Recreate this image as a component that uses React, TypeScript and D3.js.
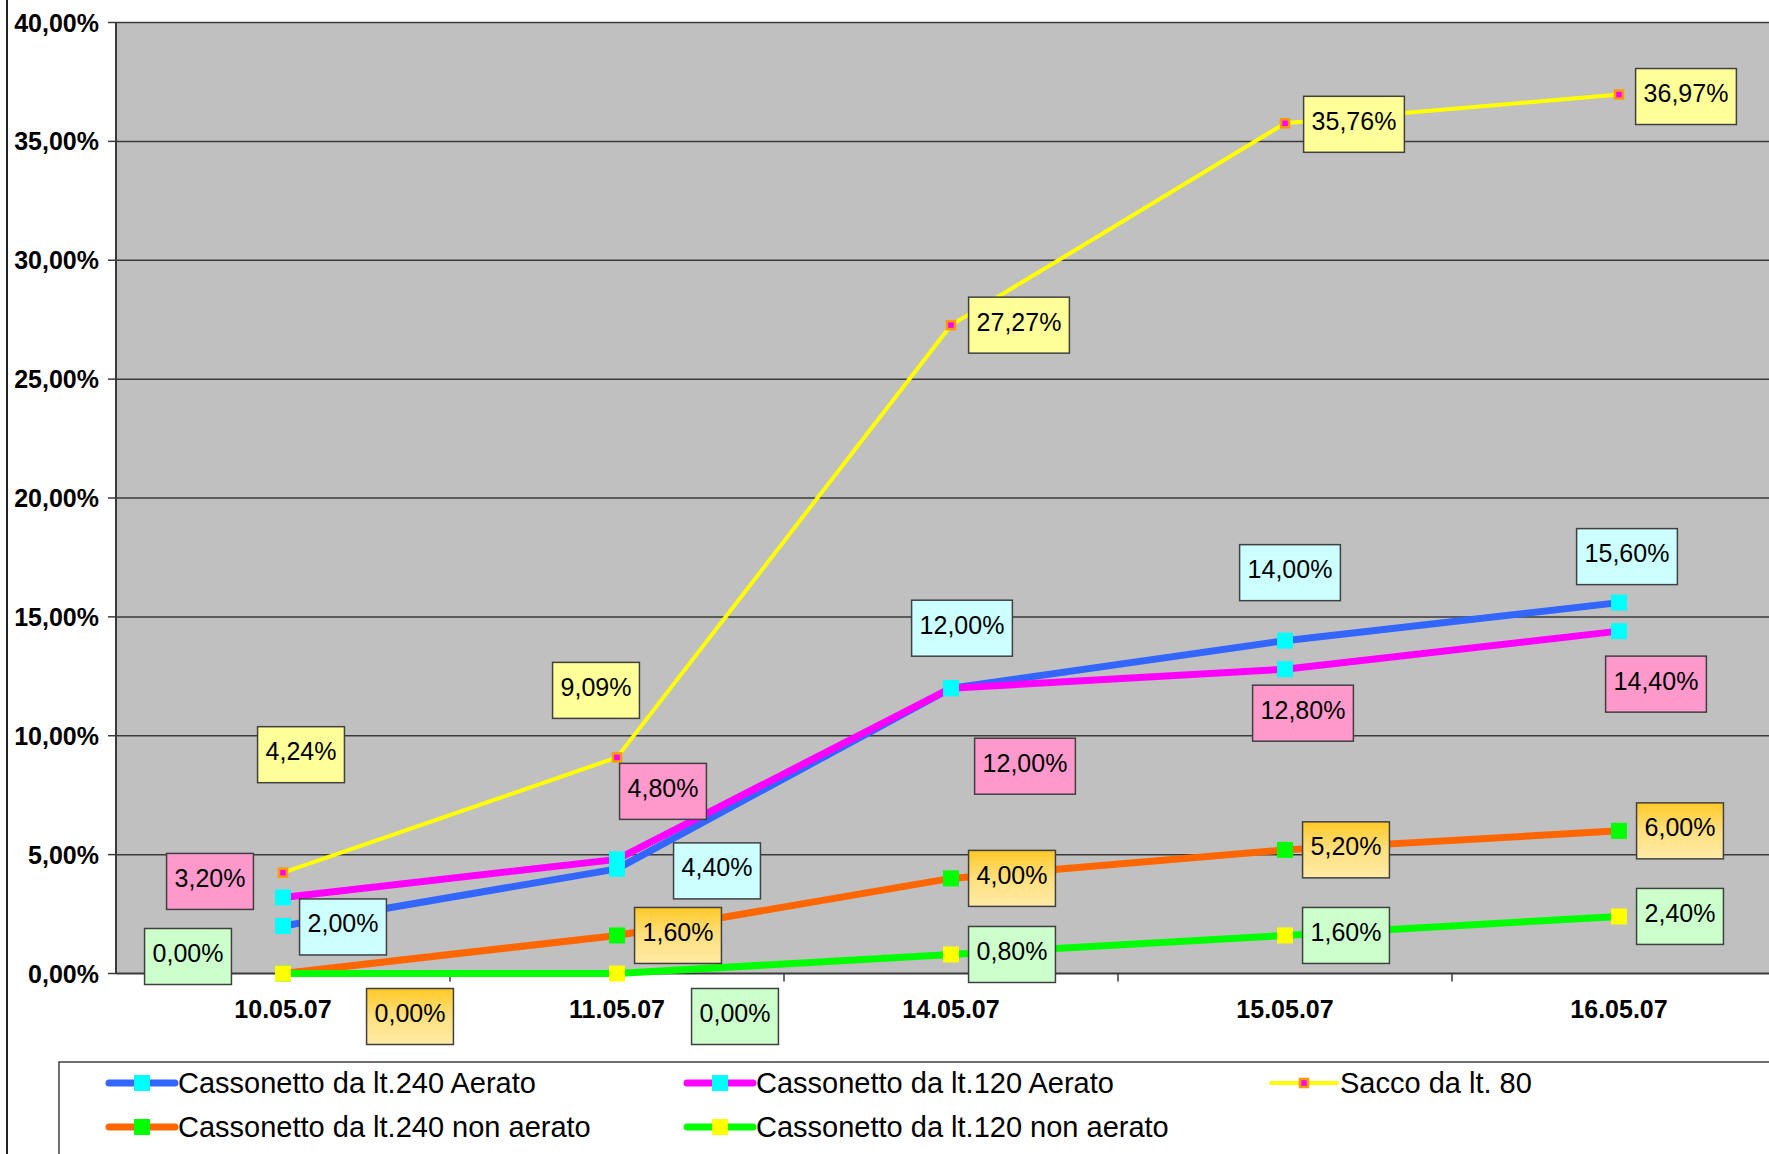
import React from 'react';
import * as d3 from 'd3';

const categories = ['10.05.07', '11.05.07', '14.05.07', '15.05.07', '16.05.07'];
const seriesNames = [
  'Cassonetto da lt.240 Aerato',
  'Cassonetto da lt.120 Aerato',
  'Sacco da lt. 80',
  'Cassonetto da lt.240 non aerato',
  'Cassonetto da lt.120 non aerato',
];
const cass240Aerato = [2.0, 4.4, 12.0, 14.0, 15.6];
const cass120Aerato = [3.2, 4.8, 12.0, 12.8, 14.4];
const sacco80 = [4.24, 9.09, 27.27, 35.76, 36.97];
const cass240NonAerato = [0.0, 1.6, 4.0, 5.2, 6.0];
const cass120NonAerato = [0.0, 0.0, 0.8, 1.6, 2.4];
const yTicks = [0, 5, 10, 15, 20, 25, 30, 35, 40];

const seriesValues = [cass240Aerato, cass120Aerato, sacco80, cass240NonAerato, cass120NonAerato];

// layout: data-label centre offsets from each point (px)
const labelOffsets = [
  [[60, 1], [100, 2], [11, -60], [5, -68], [8, -46]],
  [[-73, -16], [46, -68], [74, 78], [18, 44], [37, 53]],
  [[18, -118], [-21, -67], [68, 0], [69, 1], [67, 2]],
  [[127, 43], [61, 0], [61, 0], [61, 0], [61, 0]],
  [[-95, -17], [118, 43], [61, 0], [61, 0], [61, 0]],
];

const styles = [
  { line: '#3366FF', lw: 7, mSize: 16, mFill: '#00FFFF', mStroke: 'none', mSw: 0, label: '#CCFFFF' },
  { line: '#FF00FF', lw: 7, mSize: 16, mFill: '#00FFFF', mStroke: 'none', mSw: 0, label: '#FF99CC' },
  { line: '#FFFF00', lw: 4, mSize: 8, mFill: '#FF00FF', mStroke: '#FF9900', mSw: 2.5, label: '#FFFF99' },
  { line: '#FF6600', lw: 7, mSize: 16, mFill: '#00FF00', mStroke: 'none', mSw: 0, label: 'url(#orangeGrad)' },
  { line: '#00FF00', lw: 7, mSize: 16, mFill: '#FFFF00', mStroke: 'none', mSw: 0, label: '#CCFFCC' },
];

const W = 1769;
const H = 1154;
const plotLeft = 116;
const plotTop = 22.5;
const plotBottom = 973.5;
const bandW = 334;
const plotRight = plotLeft + bandW * categories.length;

const FONT = '"Liberation Sans", Arial, sans-serif';

const fmt = (v: number) => v.toFixed(2).replace('.', ',') + '%';

const charW: Record<string, number> = { ',': 0.278, '%': 0.889, '.': 0.278 };
const textWidth = (s: string, size: number) =>
  s.split('').reduce((a, c) => a + (charW[c] ?? 0.556), 0) * size;

export default function App() {
  const x = d3.scaleBand<string>().domain(categories).range([plotLeft, plotRight]);
  const y = d3.scaleLinear().domain([0, 40]).range([plotBottom, plotTop]);
  const cx = (c: string) => (x(c) as number) + x.bandwidth() / 2;

  const line = d3
    .line<number>()
    .x((_, i) => cx(categories[i]))
    .y((d) => y(d));

  const labelFont = 25;
  const pad = 8;
  const boxH = 56;

  const legendCols = [109, 687, 1271];
  const legendRows = [1083, 1127];

  return (
    <svg
      width={W}
      height={H}
      style={{ position: 'absolute', left: 0, top: 0, background: '#fff' }}
      fontFamily={FONT}
    >
      <defs>
        <linearGradient id="orangeGrad" x1="0" y1="0" x2="0" y2="1">
          <stop offset="0" stopColor="#FFC926" />
          <stop offset="0.5" stopColor="#FFE080" />
          <stop offset="1" stopColor="#FFEBA6" />
        </linearGradient>
      </defs>
      <rect x={0} y={0} width={W} height={H} fill="#fff" />
      {/* outer frame left edge */}
      <line x1={7} x2={7} y1={0} y2={H} stroke="#222" strokeWidth={2} />

      {/* plot area */}
      <rect x={plotLeft} y={plotTop} width={plotRight - plotLeft} height={plotBottom - plotTop} fill="#C0C0C0" />
      {yTicks.map((t) => (
        <g key={t}>
          {t > 0 && (
            <line x1={plotLeft} x2={plotRight} y1={y(t)} y2={y(t)} stroke="#3a3a3a" strokeWidth={1.5} />
          )}
          <line x1={plotLeft - 8} x2={plotLeft} y1={y(t)} y2={y(t)} stroke="#3a3a3a" strokeWidth={1.5} />
          <text
            x={99}
            y={y(t)}
            textAnchor="end"
            dominantBaseline="central"
            fontSize={25}
            fontWeight="bold"
            fill="#000"
          >
            {fmt(t)}
          </text>
        </g>
      ))}
      <line x1={plotLeft} x2={plotLeft} y1={plotTop} y2={plotBottom} stroke="#3a3a3a" strokeWidth={2} />
      <line x1={plotLeft} x2={plotRight} y1={plotBottom} y2={plotBottom} stroke="#3a3a3a" strokeWidth={2} />
      {categories.map((c, i) => (
        <line
          key={'t' + i}
          x1={(x(c) as number) + bandW}
          x2={(x(c) as number) + bandW}
          y1={plotBottom}
          y2={plotBottom + 8}
          stroke="#3a3a3a"
          strokeWidth={1.5}
        />
      ))}
      {categories.map((c) => (
        <text
          key={c}
          x={cx(c)}
          y={1009}
          textAnchor="middle"
          dominantBaseline="central"
          fontSize={25}
          fontWeight="bold"
        >
          {c}
        </text>
      ))}

      {/* series lines and markers */}
      {seriesValues.map((vals, si) => {
        const st = styles[si];
        return (
          <g key={'s' + si}>
            <path d={line(vals) || ''} fill="none" stroke={st.line} strokeWidth={st.lw} strokeLinejoin="round" />
            {vals.map((v, i) => (
              <rect
                key={i}
                x={cx(categories[i]) - st.mSize / 2}
                y={y(v) - st.mSize / 2}
                width={st.mSize}
                height={st.mSize}
                fill={st.mFill}
                stroke={st.mStroke}
                strokeWidth={st.mSw}
              />
            ))}
          </g>
        );
      })}

      {/* data labels */}
      {seriesValues.map((vals, si) =>
        vals.map((v, i) => {
          const s = fmt(v);
          const w = textWidth(s, labelFont) + pad * 2;
          const [dx, dy] = labelOffsets[si][i];
          const lx = cx(categories[i]) + dx;
          const ly = y(v) + dy;
          return (
            <g key={'l' + si + '-' + i}>
              <rect
                x={lx - w / 2}
                y={ly - boxH / 2}
                width={w}
                height={boxH}
                fill={styles[si].label}
                stroke="#404040"
                strokeWidth={1.5}
              />
              <text x={lx} y={ly - 3.5} textAnchor="middle" dominantBaseline="central" fontSize={labelFont}>
                {s}
              </text>
            </g>
          );
        })
      )}

      {/* legend */}
      <rect x={59} y={1062} width={W} height={200} fill="#fff" stroke="#404040" strokeWidth={1.5} />
      {seriesNames.map((name, si) => {
        const col = si % 3;
        const row = Math.floor(si / 3);
        const lx = legendCols[col];
        const ly = legendRows[row];
        const st = styles[si];
        return (
          <g key={'lg' + si}>
            <line x1={lx} x2={lx + 66} y1={ly} y2={ly} stroke={st.line} strokeWidth={st.lw} strokeLinecap="round" />
            <rect
              x={lx + 33 - st.mSize / 2}
              y={ly - st.mSize / 2}
              width={st.mSize}
              height={st.mSize}
              fill={st.mFill}
              stroke={st.mStroke}
              strokeWidth={st.mSw}
            />
            <text x={lx + 69} y={ly} dominantBaseline="central" fontSize={29}>
              {name}
            </text>
          </g>
        );
      })}
    </svg>
  );
}
